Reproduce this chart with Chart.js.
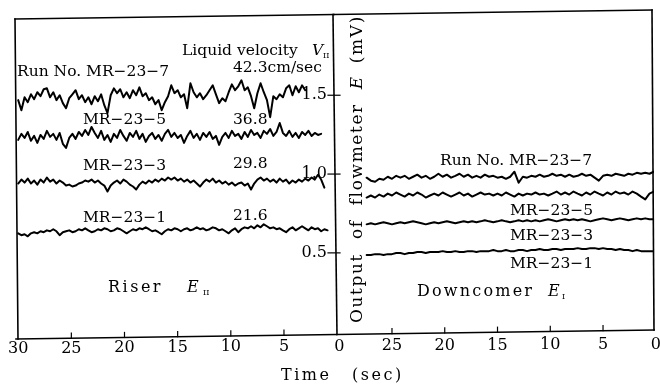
<!DOCTYPE html>
<html><head><meta charset="utf-8">
<script src="https://cdn.jsdelivr.net/npm/chart.js@4.4.1/dist/chart.umd.min.js"></script>
<style>
html,body{margin:0;padding:0;background:#fff;}
#wrap{position:relative;width:660px;height:387px;overflow:hidden;}
#wrap canvas{position:absolute;left:0;top:0;}
</style></head><body>
<div id="wrap"><canvas id="riser" width="660" height="387"></canvas><canvas id="down" width="660" height="387"></canvas></div>
<script>
// ---- tick labels ----
const timeTicks = [30, 25, 20, 15, 10, 5, 0];
const riserTickLabels = ['30', '25', '20', '15', '10', '5', ''];
const downTickLabels = ['0', '25', '20', '15', '10', '5', '0'];
const yTicks = [0.5, 1.0, 1.5];
const yTickLabels = ['0.5', '1.0', '1.5'];

// ---- sampling of the recorder traces (seconds before t = 0) ----
const riserStart = 30.0, riserStep = 0.3;
const downStart = 27.4, downStep = 0.4;

// ---- Riser E_II (mV) ----
const riserE7 = [1.469,1.405,1.487,1.456,1.506,1.475,1.519,1.494,1.538,1.544,
 1.487,1.519,1.469,1.500,1.450,1.418,1.481,1.506,1.532,1.475,
 1.500,1.456,1.487,1.443,1.494,1.462,1.506,1.437,1.387,1.500,
 1.544,1.513,1.538,1.487,1.519,1.481,1.532,1.500,1.550,1.494,
 1.513,1.469,1.487,1.443,1.469,1.405,1.456,1.494,1.563,1.513,
 1.532,1.487,1.506,1.418,1.576,1.519,1.487,1.513,1.475,1.500,
 1.532,1.563,1.506,1.450,1.481,1.462,1.519,1.569,1.532,1.557,
 1.595,1.532,1.550,1.494,1.418,1.513,1.576,1.519,1.469,1.361,
 1.494,1.475,1.506,1.487,1.544,1.563,1.500,1.557,1.519,1.563,
 1.532];
const riserE5 = [1.217,1.255,1.229,1.267,1.211,1.242,1.198,1.248,1.223,1.274,
 1.236,1.255,1.217,1.261,1.192,1.166,1.229,1.255,1.223,1.267,
 1.242,1.280,1.248,1.299,1.261,1.229,1.274,1.217,1.248,1.204,
 1.255,1.229,1.280,1.242,1.211,1.261,1.236,1.274,1.223,1.255,
 1.204,1.242,1.261,1.223,1.248,1.211,1.255,1.280,1.236,1.261,
 1.229,1.248,1.198,1.242,1.274,1.229,1.255,1.217,1.261,1.236,
 1.267,1.223,1.242,1.185,1.236,1.261,1.229,1.274,1.242,1.255,
 1.223,1.267,1.236,1.280,1.248,1.261,1.229,1.274,1.255,1.286,
 1.242,1.267,1.324,1.261,1.242,1.274,1.236,1.261,1.229,1.267,
 1.248,1.274,1.242,1.261,1.248,1.255];
const riserE3 = [0.940,0.965,0.946,0.971,0.940,0.959,0.933,0.965,0.946,0.978,
 0.952,0.965,0.940,0.959,0.946,0.927,0.933,0.921,0.927,0.940,
 0.946,0.959,0.952,0.965,0.946,0.959,0.940,0.927,0.889,0.927,
 0.946,0.959,0.940,0.965,0.952,0.933,0.921,0.902,0.933,0.952,
 0.940,0.959,0.946,0.965,0.952,0.971,0.959,0.978,0.965,0.978,
 0.959,0.971,0.952,0.965,0.946,0.959,0.940,0.921,0.946,0.965,
 0.952,0.971,0.946,0.959,0.940,0.952,0.933,0.946,0.927,0.940,
 0.946,0.927,0.940,0.902,0.940,0.965,0.978,0.959,0.971,0.952,
 0.965,0.946,0.971,0.952,0.965,0.940,0.959,0.946,0.965,0.952,
 0.971,0.959,0.978,0.965,0.996,0.965,0.914];
const riserE1 = [0.624,0.612,0.618,0.605,0.624,0.631,0.624,0.637,0.631,0.643,
 0.637,0.650,0.637,0.612,0.631,0.637,0.643,0.631,0.637,0.650,
 0.643,0.656,0.643,0.631,0.637,0.650,0.643,0.656,0.650,0.637,
 0.643,0.656,0.650,0.637,0.624,0.637,0.650,0.643,0.656,0.650,
 0.662,0.650,0.637,0.643,0.631,0.618,0.637,0.650,0.643,0.656,
 0.650,0.637,0.650,0.656,0.643,0.650,0.662,0.650,0.656,0.643,
 0.650,0.662,0.656,0.643,0.650,0.637,0.624,0.643,0.656,0.631,
 0.650,0.662,0.656,0.669,0.656,0.675,0.662,0.681,0.669,0.656,
 0.662,0.650,0.656,0.643,0.631,0.650,0.662,0.643,0.656,0.669,
 0.656,0.643,0.662,0.650,0.656,0.637,0.650,0.643];

// ---- Downcomer E_I (mV) ----
const downE7 = [0.977,0.958,0.951,0.970,0.964,0.983,0.970,0.989,0.977,0.989,
 0.970,0.983,0.996,0.977,0.989,0.970,0.983,1.002,0.983,0.996,
 0.977,0.989,1.002,0.983,0.996,0.977,0.989,0.977,0.996,0.983,
 0.989,0.977,0.983,0.970,0.983,1.015,0.945,0.983,0.977,0.989,
 0.983,0.996,0.983,0.989,1.002,0.989,0.996,0.983,0.996,0.983,
 0.989,1.002,0.989,0.996,0.977,0.958,0.989,0.996,0.989,1.002,
 0.996,0.989,1.002,0.996,1.008,1.002,1.008,1.002,1.015];
const downE5 = [0.851,0.864,0.851,0.870,0.857,0.876,0.864,0.883,0.870,0.857,
 0.876,0.864,0.883,0.870,0.851,0.864,0.876,0.864,0.883,0.870,
 0.857,0.870,0.883,0.864,0.876,0.857,0.870,0.883,0.870,0.876,
 0.864,0.876,0.864,0.883,0.870,0.857,0.876,0.864,0.876,0.870,
 0.883,0.870,0.876,0.864,0.876,0.889,0.870,0.883,0.870,0.889,
 0.876,0.864,0.883,0.870,0.889,0.876,0.864,0.883,0.870,0.889,
 0.876,0.883,0.870,0.889,0.876,0.857,0.839,0.876,0.889];
const downE3 = [0.681,0.688,0.681,0.688,0.694,0.688,0.681,0.688,0.694,0.688,
 0.694,0.700,0.694,0.688,0.681,0.688,0.694,0.688,0.694,0.700,
 0.694,0.688,0.694,0.700,0.694,0.700,0.694,0.700,0.707,0.700,
 0.694,0.700,0.707,0.700,0.694,0.700,0.707,0.700,0.707,0.700,
 0.707,0.700,0.707,0.713,0.707,0.700,0.707,0.713,0.707,0.713,
 0.707,0.713,0.707,0.700,0.707,0.713,0.719,0.713,0.707,0.713,
 0.719,0.713,0.707,0.713,0.719,0.713,0.719,0.713,0.713];
const downE1 = [0.486,0.486,0.492,0.492,0.486,0.492,0.492,0.499,0.499,0.492,
 0.499,0.499,0.505,0.505,0.499,0.505,0.505,0.505,0.511,0.505,
 0.505,0.511,0.505,0.505,0.511,0.511,0.505,0.511,0.511,0.511,
 0.518,0.511,0.511,0.518,0.511,0.511,0.518,0.518,0.511,0.518,
 0.518,0.524,0.518,0.518,0.524,0.524,0.518,0.524,0.524,0.524,
 0.530,0.524,0.524,0.530,0.530,0.524,0.530,0.524,0.524,0.518,
 0.524,0.518,0.518,0.511,0.518,0.511,0.511,0.511,0.511];

// ---------------------------------------------------------------
const SERIF = "'DejaVu Serif','Liberation Serif',serif";
const INK = '#000';

function pts(values, start, step) {
  return values.map((v, i) => ({ x: start - i * step, y: v }));
}
function ds(values, start, step) {
  return { data: pts(values, start, step), borderColor: INK, borderWidth: 2,
    pointRadius: 0, tension: 0, fill: false, borderJoinStyle: 'round', borderCapStyle: 'round' };
}
function put(ctx, text, x, y, opt = {}) {
  ctx.save();
  ctx.font = `${opt.style || 'normal'} ${opt.size || 16}px ${SERIF}`;
  ctx.fillStyle = INK;
  ctx.textAlign = opt.align || 'left';
  ctx.textBaseline = 'alphabetic';
  if ('letterSpacing' in ctx) ctx.letterSpacing = (opt.ls || 0) + 'px';
  ctx.fillText(text, x, y);
  ctx.restore();
}
function seg(ctx, x1, y1, x2, y2, w) {
  ctx.save(); ctx.strokeStyle = INK; ctx.lineWidth = w || 1.6; ctx.lineCap = 'square';
  ctx.beginPath(); ctx.moveTo(x1, y1); ctx.lineTo(x2, y2); ctx.stroke(); ctx.restore();
}
const bottomY = x => 339 - (x - 15) * 0.0141;
const topY = x => 19 - (x - 15) * 0.0141;

function scalesFor(min, max) {
  return {
    x: { type: 'linear', reverse: true, min: min, max: max, display: false },
    y: { type: 'linear', min: -0.04, max: 1.99, display: false }
  };
}

const riserPlugin = {
  id: 'riserDecor',
  afterDraw(chart) {
    const ctx = chart.ctx, xs = chart.scales.x, ys = chart.scales.y;
    seg(ctx, 15, topY(15), 334, topY(334));
    seg(ctx, 15, topY(15), 18, bottomY(18));
    seg(ctx, 16, bottomY(16), 336, bottomY(336));
    seg(ctx, 333, topY(333), 337, bottomY(337));
    timeTicks.forEach((t, i) => {
      const px = xs.getPixelForValue(t);
      if (t > 0 && t < 30) seg(ctx, px, bottomY(px), px, bottomY(px) - 5, 1.2);
      if (riserTickLabels[i]) put(ctx, riserTickLabels[i], px, 353 - (px - 15) * 0.007, { align: 'center', size: 16 });
    });
    yTicks.forEach((v, i) => {
      const py = ys.getPixelForValue(v);
      seg(ctx, 328, py, 340, py, 1.2);
      put(ctx, yTickLabels[i], 327, py + 4, { align: 'right', size: 16 });
    });
    put(ctx, 'Liquid velocity ', 182, 55, { size: 15.5 });
    put(ctx, 'V', 312, 55, { size: 15.5, style: 'italic' });
    put(ctx, 'II', 323, 58, { size: 8 });
    put(ctx, 'Run No. MR\u221223\u22127', 17, 76, { size: 15.5 });
    put(ctx, '42.3cm/sec', 233, 72, { size: 15.5 });
    put(ctx, 'MR\u221223\u22125', 83, 124, { size: 15.5 });
    put(ctx, '36.8', 233, 124, { size: 15.5 });
    put(ctx, 'MR\u221223\u22123', 83, 170, { size: 15.5 });
    put(ctx, '29.8', 233, 168, { size: 15.5 });
    put(ctx, 'MR\u221223\u22121', 83, 222, { size: 15.5 });
    put(ctx, '21.6', 233, 220, { size: 15.5 });
    put(ctx, 'Riser', 108, 292, { size: 16, ls: 2.5 });
    put(ctx, 'E', 187, 292, { size: 16, style: 'italic' });
    put(ctx, 'II', 203, 295, { size: 8 });
  }
};

const downPlugin = {
  id: 'downDecor',
  afterDraw(chart) {
    const ctx = chart.ctx, xs = chart.scales.x;
    seg(ctx, 334, topY(334), 652, topY(652));
    seg(ctx, 337, bottomY(337), 654, bottomY(654));
    seg(ctx, 652, topY(652), 654, bottomY(654));
    timeTicks.forEach((t, i) => {
      const px = xs.getPixelForValue(t);
      if (t > 0 && t < 30) seg(ctx, px, bottomY(px), px, bottomY(px) - 5, 1.2);
      if (downTickLabels[i]) put(ctx, downTickLabels[i], px, 353 - (px - 15) * 0.007, { align: 'center', size: 16 });
    });
    ctx.save();
    ctx.translate(362, 323);
    ctx.rotate(-Math.PI / 2);
    put(ctx, 'Output  of  flowmeter  ', 0, 0, { size: 17, ls: 1.6 });
    ctx.font = `17px ${SERIF}`;
    if ('letterSpacing' in ctx) ctx.letterSpacing = '1.6px';
    const w1 = ctx.measureText('Output  of  flowmeter  ').width;
    put(ctx, 'E', w1, 0, { size: 17, style: 'italic' });
    put(ctx, '  (mV)', w1 + 12, 0, { size: 17, ls: 1.6 });
    ctx.restore();
    put(ctx, 'Run No. MR\u221223\u22127', 440, 165, { size: 15.5 });
    put(ctx, 'MR\u221223\u22125', 510, 215, { size: 15.5 });
    put(ctx, 'MR\u221223\u22123', 510, 240, { size: 15.5 });
    put(ctx, 'MR\u221223\u22121', 510, 268, { size: 15.5 });
    put(ctx, 'Downcomer', 417, 296, { size: 16, ls: 2.2 });
    put(ctx, 'E', 548, 296, { size: 16, style: 'italic' });
    put(ctx, 'I', 562, 299, { size: 8 });
    put(ctx, 'Time', 281, 380, { size: 16, ls: 2.5 });
    put(ctx, '(sec)', 352, 380, { size: 16, ls: 2.5 });
  }
};

const common = {
  responsive: false, animation: false, events: [],
  plugins: { legend: { display: false }, tooltip: { enabled: false } }
};

new Chart(document.getElementById('riser'), {
  type: 'line',
  data: { datasets: [
    ds(riserE7, riserStart, riserStep),
    ds(riserE5, riserStart, riserStep),
    ds(riserE3, riserStart, riserStep),
    ds(riserE1, riserStart, riserStep)
  ] },
  options: Object.assign({}, common, {
    layout: { padding: { left: 15, right: 325, top: 18, bottom: 49 } },
    scales: scalesFor(0.2, 30.3)
  }),
  plugins: [riserPlugin]
});

new Chart(document.getElementById('down'), {
  type: 'line',
  data: { datasets: [
    ds(downE7, downStart, downStep),
    ds(downE5, downStart, downStep),
    ds(downE3, downStart, downStep),
    ds(downE1, downStart, downStep)
  ] },
  options: Object.assign({}, common, {
    layout: { padding: { left: 335, right: 6, top: 18, bottom: 49 } },
    scales: scalesFor(0.17, 30.4)
  }),
  plugins: [downPlugin]
});
</script>
</body></html>
